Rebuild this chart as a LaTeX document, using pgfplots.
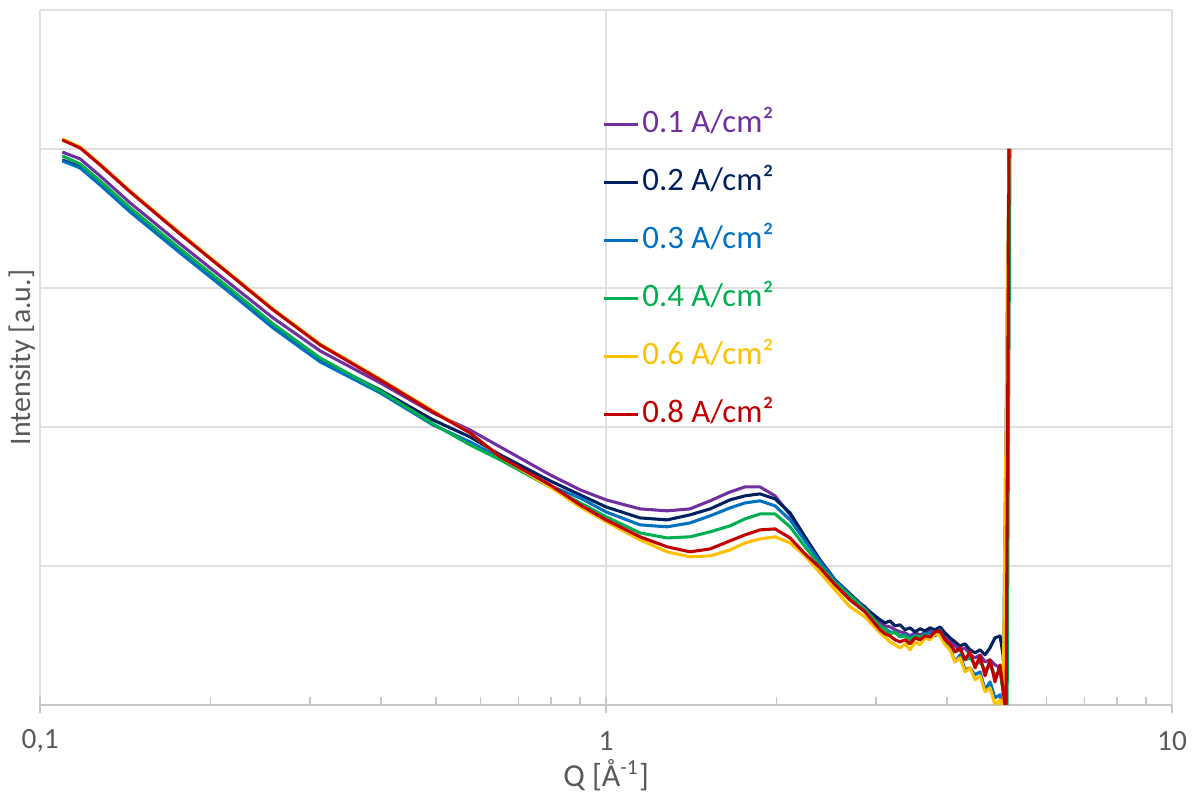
\documentclass[border=0pt]{standalone}
\usepackage{pgfplots}
\pgfplotsset{compat=1.18}
\usepackage{fontspec}
\setmainfont{Carlito}

\definecolor{cA}{HTML}{7030A0}
\definecolor{cB}{HTML}{002060}
\definecolor{cC}{HTML}{0070C0}
\definecolor{cD}{HTML}{00B050}
\definecolor{cE}{HTML}{FFC000}
\definecolor{cF}{HTML}{C00000}
\definecolor{txt}{HTML}{595959}

\begin{document}
\begin{tikzpicture}
\begin{axis}[
    scale only axis,
    width=424.5pt, height=260.6pt,
    xmode=log,
    xmin=0.1, xmax=10, ymin=0, ymax=5,
    axis x line=bottom, axis y line=left,
    x axis line style={-, draw=black!22, line width=0.8pt},
    y axis line style={draw=none},
    xtick={0.1,1,10},
    xticklabels={{0,1},1,10},
    ytick={1,2,3,4,5},
    yticklabels={},
    ytick style={draw=none},
    tick align=outside,
    major tick length=3pt, minor tick length=3pt,
    major tick style={draw=black!22, line width=0.6pt},
    minor tick style={draw=black!22, line width=0.6pt, yshift=3pt},
    grid=major,
    major grid style={draw=black!12, line width=0.6pt},
    xticklabel style={font=\fontsize{11}{13}\selectfont, text=txt, anchor=center, yshift=-10.5pt},
    xlabel={Q [Å\textsuperscript{-1}]},
    xlabel style={font=\fontsize{12}{14}\selectfont, text=txt, at={(axis description cs:0.5,-0.101)}, anchor=center},
    ylabel={Intensity [a.u.]},
    ylabel style={font=\fontsize{11.2}{13}\selectfont, text=txt, at={(axis description cs:-0.016,0.5)}, anchor=center},
    every axis plot/.append style={line width=1.15pt, line join=round},
    legend image code/.code={\draw[#1] (0pt,0pt) -- (12.75pt,0pt);},
    legend style={at={(0.4965,0.8627)}, anchor=north west, draw=none, fill=none,
        inner sep=0pt, row sep=7.75pt, column sep=0pt,
        font=\fontsize{12.3}{14}\selectfont,
        nodes={inner sep=1pt, text height=9pt, text depth=3pt, anchor=west}},
    legend cell align=left,
]
% 0.1 A/cm2
\addplot[cA] coordinates {
(0.1094,3.978)(0.1177,3.928)(0.1276,3.806)(0.1442,3.612)(0.1767,3.317)(0.2167,3.029)
(0.2580,2.784)(0.3124,2.547)(0.3989,2.317)(0.4945,2.101)(0.5749,1.978)(0.6499,1.856)
(0.7963,1.655)(0.8999,1.547)(1.000,1.475)
(1.148,1.410)(1.282,1.396)(1.407,1.410)(1.527,1.468)(1.656,1.532)(1.760,1.568)(1.871,1.568)
(1.989,1.504)(2.114,1.367)(2.247,1.187)(2.388,1.029)(2.539,0.878)(2.698,0.784)(2.868,0.705)
(3.048,0.590)(3.111,0.568)(3.175,0.561)(3.240,0.540)(3.307,0.525)(3.375,0.518)(3.444,0.496)
(3.515,0.518)(3.587,0.504)(3.661,0.518)(3.736,0.532)(3.813,0.511)(3.892,0.540)(3.971,0.489)
(4.053,0.468)(4.136,0.424)(4.221,0.396)(4.308,0.410)(4.397,0.360)(4.487,0.338)(4.579,0.360)
(4.673,0.309)(4.769,0.324)(4.867,0.288)(4.968,0.266)(5.028,0.108)(5.090,-0.072)(5.152,4.000)
};
\addlegendentry{\textcolor{cA}{0.1 A/cm²}}
% 0.2 A/cm2
\addplot[cB] coordinates {
(0.1094,3.921)(0.1177,3.871)(0.1276,3.748)(0.1442,3.554)(0.1767,3.259)(0.2167,2.971)
(0.2580,2.719)(0.3124,2.482)(0.3989,2.266)(0.4945,2.050)(0.5749,1.928)(0.6499,1.799)
(0.7963,1.612)(0.8999,1.511)(1.000,1.424)
(1.148,1.345)(1.282,1.331)(1.407,1.367)(1.527,1.410)(1.656,1.475)(1.760,1.504)(1.871,1.518)
(1.989,1.482)(2.114,1.381)(2.247,1.209)(2.388,1.043)(2.539,0.899)(2.698,0.799)(2.868,0.698)
(3.048,0.612)(3.111,0.590)(3.175,0.604)(3.240,0.568)(3.307,0.576)(3.375,0.540)(3.444,0.554)
(3.515,0.525)(3.587,0.547)(3.661,0.532)(3.736,0.554)(3.813,0.540)(3.892,0.561)(3.971,0.518)
(4.053,0.482)(4.136,0.453)(4.221,0.424)(4.308,0.439)(4.397,0.396)(4.487,0.374)(4.579,0.396)
(4.673,0.360)(4.769,0.410)(4.867,0.482)(4.968,0.496)(5.028,0.360)(5.090,-0.072)(5.152,4.000)
};
\addlegendentry{\textcolor{cB}{0.2 A/cm²}}
% 0.3 A/cm2
\addplot[cC] coordinates {
(0.1094,3.914)(0.1177,3.863)(0.1276,3.741)(0.1442,3.547)(0.1767,3.252)(0.2167,2.964)
(0.2580,2.712)(0.3124,2.468)(0.3989,2.245)(0.4945,2.014)(0.5749,1.892)(0.6499,1.777)
(0.7963,1.576)(0.8999,1.489)(1.000,1.388)
(1.148,1.295)(1.282,1.281)(1.407,1.309)(1.527,1.360)(1.656,1.417)(1.760,1.453)(1.871,1.468)
(1.989,1.432)(2.114,1.331)(2.247,1.180)(2.388,1.029)(2.539,0.892)(2.698,0.791)(2.868,0.691)
(3.048,0.561)(3.111,0.547)(3.175,0.525)(3.240,0.518)(3.307,0.496)(3.375,0.504)(3.444,0.482)
(3.515,0.496)(3.587,0.489)(3.661,0.511)(3.736,0.518)(3.813,0.496)(3.892,0.540)(3.971,0.453)
(4.053,0.410)(4.136,0.309)(4.221,0.360)(4.308,0.252)(4.397,0.266)(4.487,0.216)(4.579,0.237)
(4.673,0.108)(4.769,0.165)(4.867,0.050)(4.968,0.072)(5.028,-0.072)(5.152,4.000)
};
\addlegendentry{\textcolor{cC}{0.3 A/cm²}}
% 0.4 A/cm2
\addplot[cD] coordinates {
(0.1094,3.950)(0.1177,3.892)(0.1276,3.770)(0.1442,3.576)(0.1767,3.281)(0.2167,2.993)
(0.2580,2.741)(0.3124,2.496)(0.3989,2.259)(0.4945,2.022)(0.5749,1.871)(0.6499,1.763)
(0.7963,1.568)(0.8999,1.453)(1.000,1.353)
(1.148,1.237)(1.282,1.201)(1.407,1.209)(1.527,1.245)(1.656,1.288)(1.760,1.338)(1.871,1.374)
(1.989,1.374)(2.114,1.281)(2.247,1.137)(2.388,1.000)(2.539,0.878)(2.698,0.784)(2.868,0.683)
(3.048,0.568)(3.111,0.540)(3.175,0.511)(3.240,0.525)(3.307,0.489)(3.375,0.496)(3.444,0.468)
(3.515,0.496)(3.587,0.489)(3.661,0.504)(3.736,0.489)(3.813,0.525)(3.892,0.532)(3.971,0.468)
(4.053,0.432)(4.136,0.381)(4.221,0.396)(4.308,0.324)(4.397,0.338)(4.487,0.288)(4.579,0.309)
(4.673,0.252)(4.769,0.281)(4.867,0.216)(4.968,0.237)(5.028,0.108)(5.111,-0.072)(5.173,4.000)
};
\addlegendentry{\textcolor{cD}{0.4 A/cm²}}
% 0.6 A/cm2
\addplot[cE] coordinates {
(0.1094,4.072)(0.1177,4.014)(0.1276,3.892)(0.1442,3.698)(0.1767,3.396)(0.2167,3.101)
(0.2580,2.849)(0.3124,2.597)(0.3989,2.345)(0.4945,2.115)(0.5749,1.957)(0.6499,1.784)
(0.7963,1.568)(0.8999,1.424)(1.000,1.317)
(1.148,1.187)(1.282,1.101)(1.407,1.065)(1.527,1.072)(1.656,1.115)(1.760,1.165)(1.871,1.194)
(1.989,1.209)(2.114,1.165)(2.247,1.072)(2.388,0.950)(2.539,0.827)(2.698,0.705)(2.868,0.633)
(3.048,0.518)(3.111,0.489)(3.175,0.453)(3.240,0.432)(3.307,0.410)(3.375,0.439)(3.444,0.396)
(3.515,0.453)(3.587,0.432)(3.661,0.482)(3.736,0.468)(3.813,0.511)(3.892,0.496)(3.971,0.432)
(4.053,0.396)(4.136,0.309)(4.221,0.338)(4.308,0.237)(4.397,0.266)(4.487,0.180)(4.579,0.209)
(4.673,0.094)(4.769,0.122)(4.867,0.000)(4.968,0.036)(5.028,-0.072)(5.152,4.000)
};
\addlegendentry{\textcolor{cE}{0.6 A/cm²}}
% 0.8 A/cm2
\addplot[cF] coordinates {
(0.1094,4.065)(0.1177,4.007)(0.1276,3.885)(0.1442,3.691)(0.1767,3.388)(0.2167,3.094)
(0.2580,2.842)(0.3124,2.590)(0.3989,2.338)(0.4945,2.108)(0.5749,1.957)(0.6499,1.784)
(0.7963,1.583)(0.8999,1.439)(1.000,1.331)
(1.148,1.209)(1.282,1.137)(1.407,1.101)(1.527,1.122)(1.656,1.180)(1.760,1.223)(1.871,1.259)
(1.989,1.266)(2.114,1.201)(2.247,1.086)(2.388,0.986)(2.539,0.863)(2.698,0.755)(2.868,0.669)
(3.048,0.540)(3.111,0.511)(3.175,0.496)(3.240,0.468)(3.307,0.453)(3.375,0.468)(3.444,0.439)
(3.515,0.482)(3.587,0.468)(3.661,0.496)(3.736,0.489)(3.813,0.525)(3.892,0.532)(3.971,0.468)
(4.053,0.439)(4.136,0.381)(4.221,0.410)(4.308,0.324)(4.397,0.381)(4.487,0.266)(4.579,0.353)
(4.673,0.209)(4.769,0.324)(4.867,0.165)(4.968,0.288)(5.028,0.108)(5.090,-0.072)(5.152,4.000)
};
\addlegendentry{\textcolor{cF}{0.8 A/cm²}}
\end{axis}
\path (current axis.south west) ++(-15pt,-36pt) coordinate (bbA);
\path (current axis.north east) ++(9.75pt,3.75pt) coordinate (bbB);
\path[use as bounding box] (bbA) rectangle (bbB);
\end{tikzpicture}
\end{document}
